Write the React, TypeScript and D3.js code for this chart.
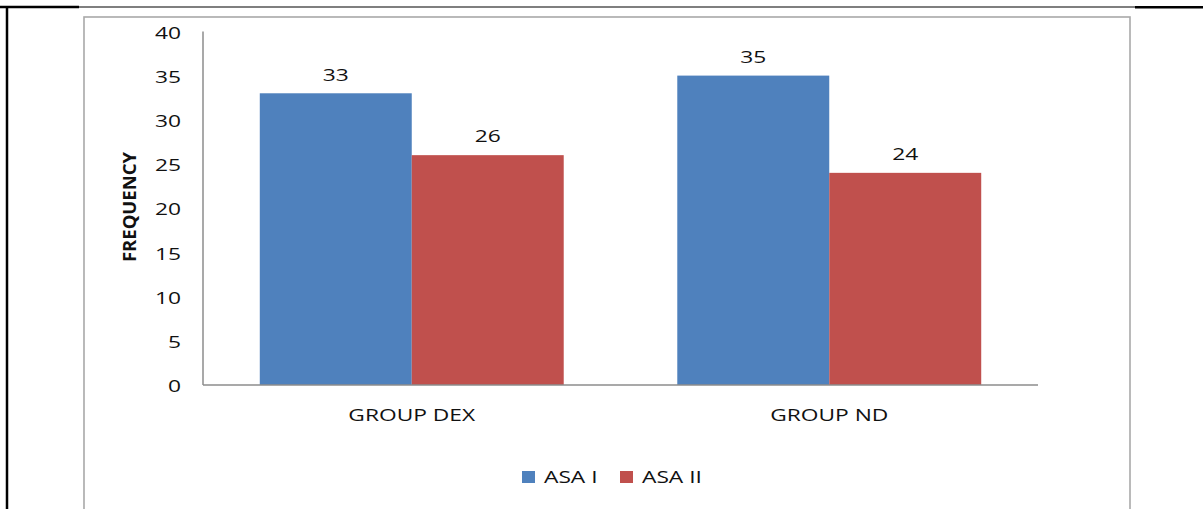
import React from "react";
import * as d3 from "d3";

const categories = ["GROUP DEX", "GROUP ND"];
const seriesNames = ["ASA I", "ASA II"];
const asaI = [33, 35];
const asaII = [26, 24];
const yTicks = [0, 5, 10, 15, 20, 25, 30, 35, 40];
const colors = ["#4F81BD", "#C0504D"];

const W = 1203;
const H = 509;
const SX = 1.38; // horizontal text stretch
const FONT = "'Open Sans', sans-serif";

function Txt(props: {
  x: number;
  y: number;
  children: React.ReactNode;
  anchor?: string;
  size?: number;
  weight?: string | number;
  rotate?: number;
  sx?: number;
}) {
  const { x, y, children, anchor = "middle", size = 16.5, weight = "normal", rotate = 0, sx = SX } = props;
  return (
    <text
      transform={`translate(${x},${y}) scale(${sx},1)${rotate ? ` rotate(${rotate})` : ""}`}
      textAnchor={anchor}
      dominantBaseline="central"
      fontFamily={FONT}
      fontSize={size}
      fontWeight={weight}
      fill="#111"
    >
      {children}
    </text>
  );
}

export default function App() {
  const x0 = d3
    .scaleBand<string>()
    .domain(categories)
    .range([203, 1038])
    .paddingInner(0.272)
    .paddingOuter(0.136);
  const x1 = d3
    .scaleBand<string>()
    .domain(seriesNames)
    .range([0, x0.bandwidth()]);
  const y = d3.scaleLinear().domain([0, 40]).range([385, 31.4]);

  const values = [asaI, asaII];

  return (
    <svg
      width={W}
      height={H}
      style={{ position: "absolute", left: 0, top: 0, background: "#fff" }}
    >
      {/* page rules */}
      <line x1={0} x2={W} y1={7} y2={7} stroke="#000" strokeWidth={1.2} />
      <line x1={0} x2={79} y1={7} y2={7} stroke="#000" strokeWidth={2.5} />
      <line x1={1135} x2={W} y1={7.3} y2={7.3} stroke="#000" strokeWidth={2.5} />
      <line x1={7} x2={7} y1={6} y2={H} stroke="#000" strokeWidth={2.5} />

      {/* chart frame */}
      <rect x={84} y={17} width={1046} height={600} fill="none" stroke="#A9A9A9" strokeWidth={1.6} />

      {/* bars */}
      {categories.map((c, ci) =>
        seriesNames.map((s, si) => {
          const v = values[si][ci];
          const bx = (x0(c) ?? 0) + (x1(s) ?? 0);
          return (
            <g key={c + s}>
              <rect x={bx} y={y(v)} width={x1.bandwidth()} height={y(0) - y(v)} fill={colors[si]} />
              <Txt x={bx + x1.bandwidth() / 2} y={y(v) - 19}>
                {v}
              </Txt>
            </g>
          );
        })
      )}

      {/* axes */}
      <line x1={203} x2={203} y1={y(40)} y2={y(0)} stroke="#8c8c8c" strokeWidth={1.5} />
      <line x1={203} x2={1038} y1={y(0)} y2={y(0)} stroke="#8c8c8c" strokeWidth={1.5} />

      {yTicks.map((t) => (
        <Txt key={t} x={181} y={y(t) + 1} anchor="end">
          {t}
        </Txt>
      ))}

      {categories.map((c) => (
        <Txt key={c} x={(x0(c) ?? 0) + x0.bandwidth() / 2} y={415}>
          {c}
        </Txt>
      ))}

      <Txt x={128} y={207} weight="bold" size={18.5} rotate={-90} sx={1}>
        FREQUENCY
      </Txt>

      {/* legend */}
      {seriesNames.map((s, i) => {
        const lx = [522, 620][i];
        return (
          <g key={s}>
            <rect x={lx} y={471} width={13} height={12} fill={colors[i]} />
            <Txt x={lx + 22} y={477} anchor="start">
              {s}
            </Txt>
          </g>
        );
      })}
    </svg>
  );
}
